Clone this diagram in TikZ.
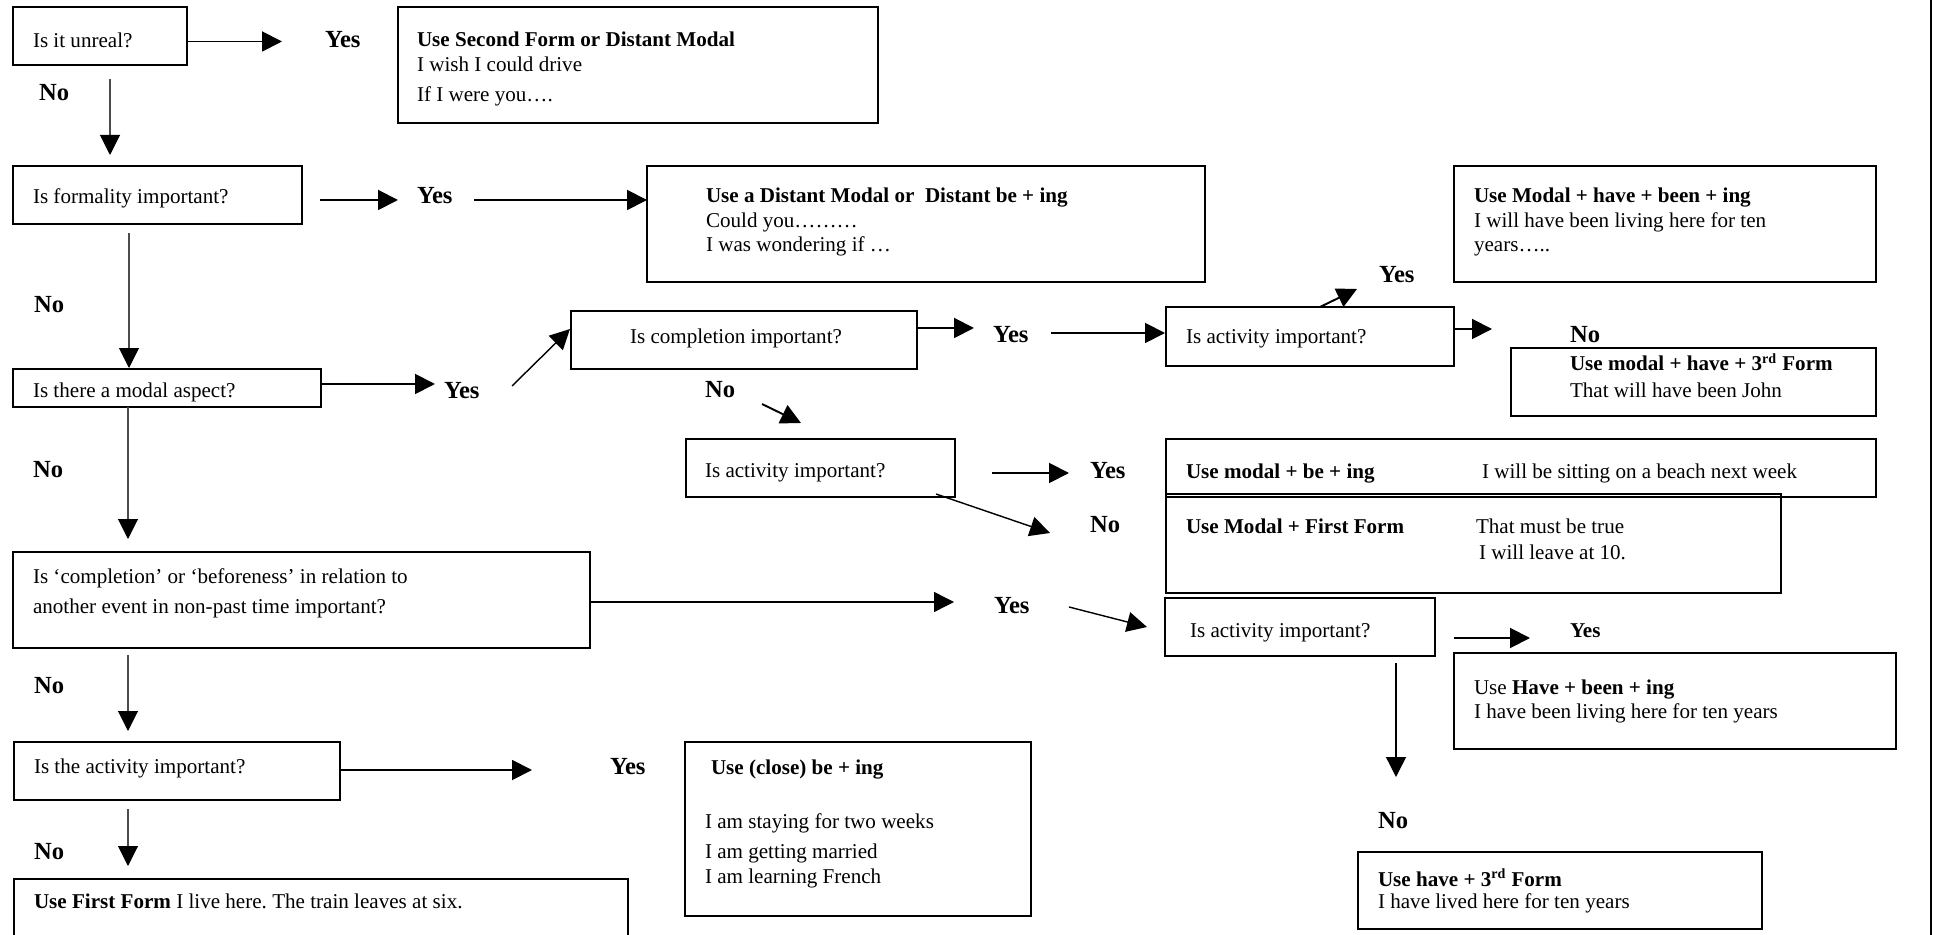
\documentclass[tikz,border=0pt]{standalone}
\usepackage{fontspec}
\setmainfont{Liberation Serif}
\usetikzlibrary{arrows.meta,fit}
\frenchspacing
\tikzset{
  box/.style={draw, line width=1.1pt, inner sep=0pt, outer sep=0pt},
  txt/.style={anchor=base west, inner sep=0pt, outer sep=0pt, font=\fontsize{12}{14}\selectfont},
  btxt/.style={txt, font=\fontsize{12}{14}\selectfont\bfseries},
  lbl/.style={anchor=base west, inner sep=0pt, outer sep=0pt, font=\fontsize{14}{16}\selectfont\bfseries},
  barrow/.style={line width=1.1pt, -{Triangle[length=0.4cm,width=0.4cm]}},
  marrow/.style={line width=0.8pt, -{Triangle[length=0.4cm,width=0.4cm]}},
  tarrow/.style={line width=0.6pt, draw=black!70, -{Triangle[length=0.4cm,width=0.4cm,color=black]}},
}
\begin{document}
\begin{tikzpicture}[x=0.02cm, y=-0.02cm]
\useasboundingbox (0,0) rectangle (1934,935);
\clip (0,0) rectangle (1934,935);

% ---------- boxes ----------
\node[box, fit={(13,7) (187,65)}] (unreal) {};
\node[box, fit={(398,7) (878,123)}] (secondform) {};
\node[box, fit={(13,166) (302,224)}] (formality) {};
\node[box, fit={(647,166) (1205,282)}] (distant) {};
\node[box, fit={(13,369) (321,407)}] (modal) {};
\node[box, fit={(571,311) (917,369)}] (completion) {};
\node[box, fit={(1166,307) (1454,366)}] (actA) {};
\node[box, fit={(1454,166) (1876,282)}] (mhbi) {};
\node[box, fit={(1511,348) (1876,416)}] (mhthird) {};
\node[box, fit={(686,439) (955,497)}] (actB) {};
\node[box, fit={(1166,439) (1876,497)}] (mbi) {};
\node[box, fit={(1166,494) (1781,593)}] (mff) {};
\node[box, fit={(13,552) (590,648)}] (before) {};
\node[box, fit={(1165,598) (1435,656)}] (actC) {};
\node[box, fit={(1454,653) (1896,749)}] (hbi) {};
\node[box, fit={(1358,852) (1762,929)}] (hthird) {};
\node[box, fit={(14,742) (340,800)}] (activity) {};
\node[box, fit={(685,742) (1031,916)}] (closebe) {};
\node[box, fit={(14,879) (628,950)}] (firstform) {};

% ---------- box texts ----------
\node[txt] (t-unreal) at (33,48) {Is it unreal?};
\node[btxt] (t-sf1) at (417,47) {Use Second Form or Distant Modal};
\node[txt] (t-sf2) at (417,72) {I wish I could drive};
\node[txt] (t-sf3) at (417,102) {If I were you….};
\node[txt] (t-form) at (33,204) {Is formality important?};
\node[btxt] (t-d1) at (706,203) {Use a Distant Modal or \ Distant be + ing};
\node[txt] (t-d2) at (706,228) {Could you………};
\node[txt] (t-d3) at (706,252) {I was wondering if …};
\node[txt] (t-modal) at (33,398) {Is there a modal aspect?};
\node[txt] (t-compl) at (630,344) {Is completion important?};
\node[txt] (t-actA) at (1186,344) {Is activity important?};
\node[btxt] (t-mh1) at (1474,203) {Use Modal + have + been + ing};
\node[txt] (t-mh2) at (1474,228) {I will have been living here for ten};
\node[txt] (t-mh3) at (1474,252) {years…..};
\node[btxt] (t-m31) at (1570,371) {Use modal + have + 3\textsuperscript{rd} Form};
\node[txt] (t-m32) at (1570,398) {That will have been John};
\node[txt] (t-actB) at (705,478) {Is activity important?};
\node[btxt] (t-mb1) at (1186,479) {Use modal + be + ing};
\node[txt] (t-mb2) at (1482,479) {I will be sitting on a beach next week};
\node[btxt] (t-mf1) at (1186,534) {Use Modal + First Form};
\node[txt] (t-mf2) at (1476,534) {That must be true};
\node[txt] (t-mf3) at (1479,560) {I will leave at 10.};
\node[txt] (t-bef1) at (33,583) {Is ‘completion’ or ‘beforeness’ in relation to};
\node[txt] (t-bef2) at (33,614) {another event in non-past time important?};
\node[txt] (t-actC) at (1190,638) {Is activity important?};
\node[txt] (t-hb1) at (1474,694) {Use \textbf{Have + been + ing}};
\node[txt] (t-hb2) at (1474,718) {I have been living here for ten years};
\node[btxt] (t-h31) at (1378,886) {Use have + 3\textsuperscript{rd} Form};
\node[txt] (t-h32) at (1378,908) {I have lived here for ten years};
\node[txt] (t-act) at (34,773) {Is the activity important?};
\node[btxt] (t-cb1) at (711,774) {Use (close) be + ing};
\node[txt] (t-cb2) at (705,828) {I am staying for two weeks};
\node[txt] (t-cb3) at (705,858) {I am getting married};
\node[txt] (t-cb4) at (705,883) {I am learning French};
\node[txt] (t-ff) at (34,908) {\textbf{Use First Form} I live here. The train leaves at six.};

% ---------- yes / no labels ----------
\node[lbl] (y1) at (325,48) {Yes};
\node[lbl] (n1) at (39,101) {No};
\node[lbl] (y2) at (417,204) {Yes};
\node[lbl] (n2) at (34,313) {No};
\node[lbl] (y3) at (444,399) {Yes};
\node[lbl] (y4) at (993,343) {Yes};
\node[lbl] (y5) at (1379,283) {Yes};
\node[lbl] (n5) at (1570,343) {No};
\node[lbl] (n4) at (705,398) {No};
\node[lbl] (y6) at (1090,479) {Yes};
\node[lbl] (n6) at (1090,533) {No};
\node[lbl] (n3) at (33,478) {No};
\node[lbl] (y7) at (994,613) {Yes};
\node[btxt] (y8) at (1570,638) {Yes};
\node[lbl] (n8) at (1378,828) {No};
\node[lbl] (n7) at (34,693) {No};
\node[lbl] (y9) at (610,774) {Yes};
\node[lbl] (n9) at (34,859) {No};

% ---------- connector end points ----------
\coordinate (c1a) at (187,41.5);  \coordinate (c1b) at (282,41.5);
\coordinate (c2a) at (110,79);    \coordinate (c2b) at (110,155);
\coordinate (c3a) at (320,200);   \coordinate (c3b) at (398,200);
\coordinate (c4a) at (474,200);   \coordinate (c4b) at (647,200);
\coordinate (c5a) at (129,233);   \coordinate (c5b) at (129,368);
\coordinate (c6a) at (321,384);   \coordinate (c6b) at (435,384);
\coordinate (c7a) at (512,386);   \coordinate (c7b) at (570,329);
\coordinate (c8a) at (917,328);   \coordinate (c8b) at (974,328);
\coordinate (c9a) at (1051,333);  \coordinate (c9b) at (1165,333);
\coordinate (c10a) at (1320,307); \coordinate (c10b) at (1357,289);
\coordinate (c11a) at (1454,329); \coordinate (c11b) at (1492,329);
\coordinate (c12a) at (762,404);  \coordinate (c12b) at (801,423);
\coordinate (c13a) at (992,473);  \coordinate (c13b) at (1069,473);
\coordinate (c14a) at (936,494);  \coordinate (c14b) at (1050,533);
\coordinate (c15a) at (128,407);  \coordinate (c15b) at (128,539);
\coordinate (c16a) at (590,602);  \coordinate (c16b) at (954,602);
\coordinate (c17a) at (1069,607); \coordinate (c17b) at (1147,627);
\coordinate (c18a) at (1454,638); \coordinate (c18b) at (1530,638);
\coordinate (c19a) at (1396,663); \coordinate (c19b) at (1396,777);
\coordinate (c20a) at (128,655);  \coordinate (c20b) at (128,731);
\coordinate (c21a) at (340,770);  \coordinate (c21b) at (532,770);
\coordinate (c22a) at (128,809);  \coordinate (c22b) at (128,866);

% ---------- connectors ----------
\draw[barrow] (c1a) -- (c1b);
\draw[tarrow] (c2a) -- (c2b);
\draw[barrow] (c3a) -- (c3b);
\draw[barrow] (c4a) -- (c4b);
\draw[tarrow] (c5a) -- (c5b);
\draw[barrow] (c6a) -- (c6b);
\draw[marrow] (c7a) -- (c7b);
\draw[barrow] (c8a) -- (c8b);
\draw[barrow] (c9a) -- (c9b);
\draw[barrow] (c10a) -- (c10b);
\draw[barrow] (c11a) -- (c11b);
\draw[barrow] (c12a) -- (c12b);
\draw[barrow] (c13a) -- (c13b);
\draw[marrow] (c14a) -- (c14b);
\draw[tarrow] (c15a) -- (c15b);
\draw[marrow] (c16a) -- (c16b);
\draw[marrow] (c17a) -- (c17b);
\draw[barrow] (c18a) -- (c18b);
\draw[marrow] (c19a) -- (c19b);
\draw[tarrow] (c20a) -- (c20b);
\draw[barrow] (c21a) -- (c21b);
\draw[tarrow] (c22a) -- (c22b);

% ---------- page edge rule ----------
\draw[line width=1.3pt] (1931,0) -- (1931,935);
\end{tikzpicture}
\end{document}
